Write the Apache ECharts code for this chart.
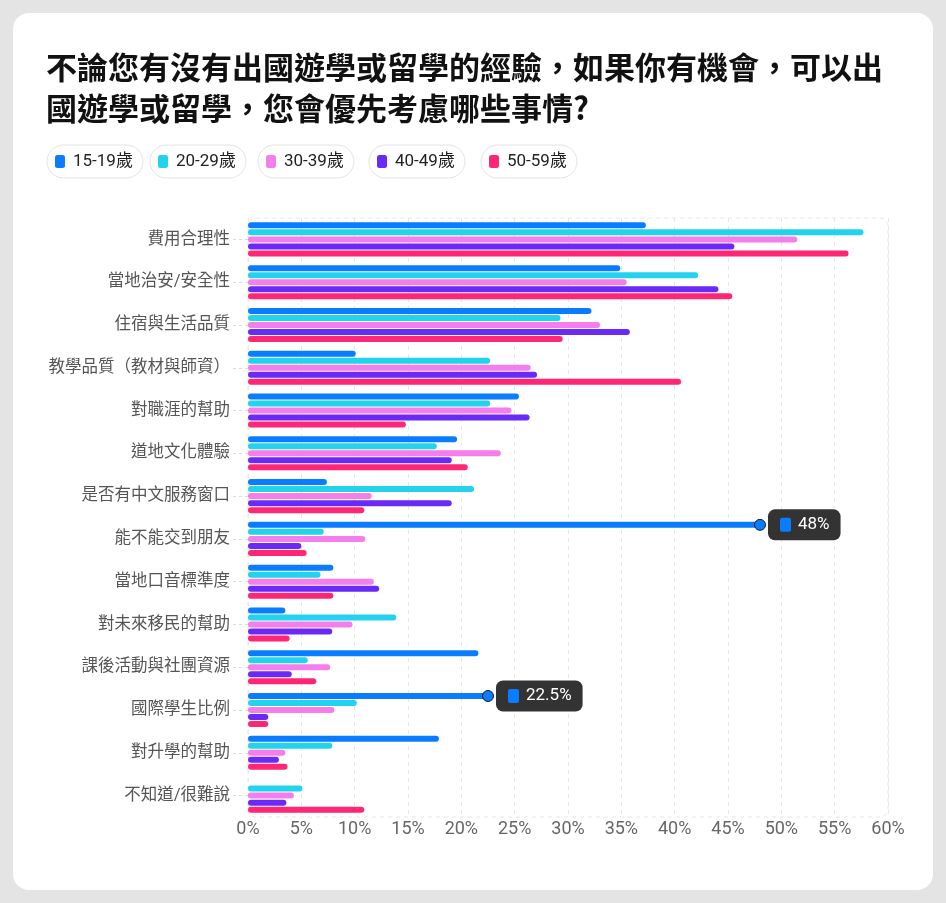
<!DOCTYPE html>
<html>
<head>
<meta charset="utf-8">
<script src="https://cdn.jsdelivr.net/npm/echarts@6/dist/echarts.min.js"></script>
<style>
  html, body { margin: 0; padding: 0; background: #e4e4e4; }
  #card { position: absolute; left: 13px; top: 13px; width: 920px; height: 877px; background: #fff; border-radius: 16px; }
  #main { position: absolute; left: 0; top: 0; width: 946px; height: 903px; }
</style>
</head>
<body>
<div id="card"></div>
<div id="main"></div>
<script>
const categories = ['費用合理性', '當地治安/安全性', '住宿與生活品質', '教學品質（教材與師資）', '對職涯的幫助',
  '道地文化體驗', '是否有中文服務窗口', '能不能交到朋友', '當地口音標準度', '對未來移民的幫助',
  '課後活動與社團資源', '國際學生比例', '對升學的幫助', '不知道/很難說'];
const seriesNames = ['15-19歲', '20-29歲', '30-39歲', '40-49歲', '50-59歲'];
const age1519 = [37.3, 34.9, 32.2, 10.1, 25.4, 19.6, 7.4, 48, 8.0, 3.5, 21.6, 22.5, 17.9, null];
const age2029 = [57.7, 42.2, 29.3, 22.7, 22.7, 17.7, 21.2, 7.1, 6.8, 13.9, 5.6, 10.2, 7.9, 5.1];
const age3039 = [51.5, 35.5, 33.0, 26.5, 24.7, 23.7, 11.6, 11.0, 11.8, 9.8, 7.7, 8.1, 3.5, 4.3];
const age4049 = [45.6, 44.1, 35.8, 27.1, 26.4, 19.1, 19.1, 5.0, 12.3, 7.9, 4.1, 1.9, 2.9, 3.6];
const age5059 = [56.3, 45.4, 29.5, 40.6, 14.8, 20.6, 10.9, 5.5, 8.0, 3.9, 6.4, 1.9, 3.7, 10.9];
const colors = ['#0a7cff', '#23d3ee', '#f47eeb', '#6a2af6', '#fe2776'];
// highlighted points on the 15-19 series
const callouts = [['能不能交到朋友', 48], ['國際學生比例', 22.5]];

const latin = 'Roboto, "Noto Sans CJK TC", sans-serif';
const chart = echarts.init(document.getElementById('main'), null, { renderer: 'canvas' });

const legendLeft = [47, 150, 258, 369, 481];
const legends = seriesNames.map((n, i) => ({
  data: [n],
  left: legendLeft[i],
  top: 145,
  orient: 'horizontal',
  icon: 'roundRect',
  itemWidth: 10,
  itemHeight: 13,
  padding: [8, 10, 8, 8],
  borderColor: '#e2e2e2',
  borderWidth: 1,
  borderRadius: 17,
  textStyle: { fontSize: 17, color: '#222', fontFamily: latin, padding: [0, 0, 0, 3] }
}));

const dataSets = [age1519, age2029, age3039, age4049, age5059];
const series = dataSets.map((d, i) => ({
  name: seriesNames[i],
  type: 'bar',
  data: d,
  barWidth: 6,
  barGap: '17%',
  itemStyle: { color: colors[i], borderRadius: 3 },
  z: 3
}));

series[0].markPoint = {
  symbol: 'circle',
  symbolSize: 11,
  itemStyle: { color: colors[0], borderColor: '#1d1d1d', borderWidth: 1 },
  label: {
    show: true,
    position: 'right',
    distance: 2,
    formatter: p => '{sq|}{t|' + p.value + '%}',
    backgroundColor: '#333',
    borderRadius: 7,
    padding: [7, 11, 7, 12],
    rich: {
      sq: { width: 11, height: 14, backgroundColor: colors[0], borderRadius: 2 },
      t: { color: '#fff', fontSize: 17, fontFamily: latin, padding: [0, 0, 0, 7] }
    }
  },
  data: callouts.map(c => ({ coord: [c[1], c[0]], value: c[1] }))
};

const option = {
  animation: false,
  title: {
    text: '不論您有沒有出國遊學或留學的經驗，如果你有機會，可以出\n國遊學或留學，您會優先考慮哪些事情?',
    left: 46,
    top: 47,
    padding: 0,
    textStyle: { fontSize: 31, fontWeight: 'bold', color: '#111', lineHeight: 41, fontFamily: '"Noto Sans CJK TC", sans-serif' }
  },
  legend: legends,
  grid: { left: 248, right: 58, top: 218, bottom: 86 },
  graphic: [{
    type: 'rect',
    shape: { x: 248, y: 218, width: 640, height: 599, r: 8 },
    style: { fill: 'none', stroke: '#e6e6e6', lineWidth: 1, lineDash: [4, 4] },
    z: 0, silent: true
  }],
  xAxis: {
    type: 'value',
    min: 0, max: 60, interval: 5,
    axisLine: { show: false },
    axisTick: { show: false },
    axisLabel: { formatter: '{value}%', fontSize: 18, color: '#666', margin: 4, fontFamily: latin },
    splitLine: { lineStyle: { color: '#e8e8e8', type: [4, 4] } }
  },
  yAxis: {
    type: 'category',
    inverse: true,
    data: categories,
    axisLine: { show: false },
    axisTick: { show: true, alignWithLabel: true, length: 15, lineStyle: { color: '#dcdcdc', type: [3, 3] } },
    axisLabel: { fontSize: 16.5, color: '#555', margin: 18, fontFamily: latin, padding: [7, 0, 0, 0] }
  },
  series: series
};
chart.setOption(option);
</script>
</body>
</html>
